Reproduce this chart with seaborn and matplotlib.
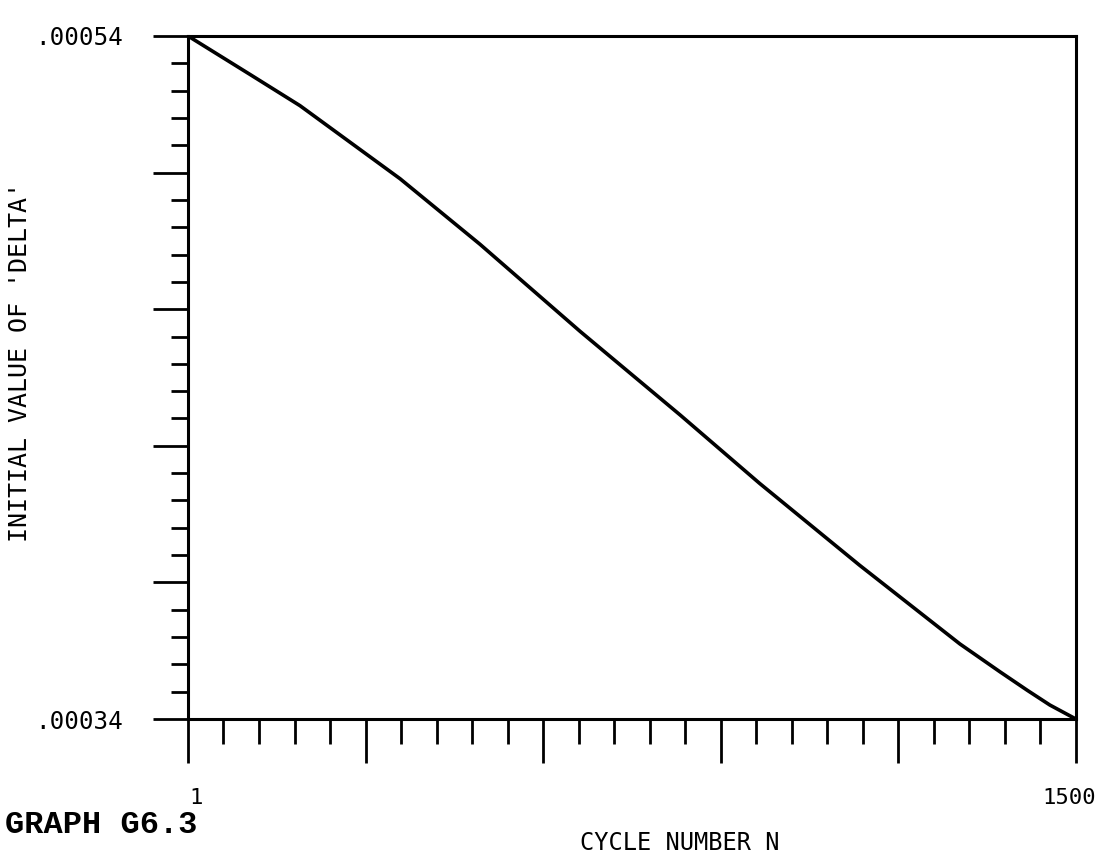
import numpy as np
import matplotlib
matplotlib.use('Agg')
import matplotlib.pyplot as plt
import matplotlib.transforms as mtransforms
import seaborn as sns

cycle_n = [1, 106, 190, 359, 494, 663, 832, 966, 1135, 1304, 1372, 1418, 1456, 1500]
delta = [0.000540, 0.0005287, 0.0005196, 0.0004982, 0.000479, 0.0004535, 0.000429,
         0.000409, 0.000385, 0.000362, 0.0003538, 0.0003484, 0.0003441, 0.000340]

x_min, x_max = 1, 1500
y_min, y_max = 0.00034, 0.00054
x_tick_labels = ["1", "", "", "", "", "1500"]
y_tick_labels = [".00034", "", "", "", "", ".00054"]

sns.set_style("ticks")
plt.rcParams['font.family'] = ['DejaVu Sans Mono', 'DejaVu Sans']
plt.rcParams['text.color'] = 'black'
plt.rcParams['axes.labelcolor'] = 'black'
plt.rcParams['xtick.color'] = 'black'
plt.rcParams['ytick.color'] = 'black'

fig = plt.figure(figsize=(10.96, 8.56), dpi=100)
ax = fig.add_axes([0.1715, 0.160, 0.8102, 0.798])

sns.lineplot(x=cycle_n, y=delta, ax=ax, color="black", linewidth=2.6)

ax.set_xlim(x_min, x_max)
ax.set_ylim(y_min, y_max)

# 25 divisions on each axis, long tick every 5
ax.set_xticks(np.linspace(x_min, x_max, 6))
ax.set_xticks(np.linspace(x_min, x_max, 26), minor=True)
ax.set_yticks(np.linspace(y_min, y_max, 6))
ax.set_yticks(np.linspace(y_min, y_max, 26), minor=True)
ax.set_xticklabels(x_tick_labels, fontsize=16)
ax.set_yticklabels(y_tick_labels, fontsize=17.5)

ax.tick_params(axis='x', which='major', direction='out', length=32, width=2, pad=18)
ax.tick_params(axis='x', which='minor', direction='out', length=18, width=2)
ax.tick_params(axis='y', which='major', direction='out', length=25, width=2, pad=22)
ax.tick_params(axis='y', which='minor', direction='out', length=12, width=2)

# nudge the end labels like on the plotter output
lbls = ax.get_xticklabels()
lbls[0].set_transform(lbls[0].get_transform() + mtransforms.ScaledTranslation(0.08, 0, fig.dpi_scale_trans))
lbls[-1].set_transform(lbls[-1].get_transform() + mtransforms.ScaledTranslation(-0.07, 0, fig.dpi_scale_trans))

for sp in ax.spines.values():
    sp.set_visible(True)
    sp.set_linewidth(2.2)
    sp.set_color("black")

ax.set_xlabel("CYCLE NUMBER N", fontsize=17)
ax.xaxis.set_label_coords(0.554, -0.164)
ax.set_ylabel("INITIAL VALUE OF 'DELTA'", fontsize=18)
ax.yaxis.set_label_coords(-0.176, 0.523)

fig.text(0.005, 0.036, "GRAPH G6.3", fontsize=23, fontweight="bold",
         family="Liberation Mono", va="center", ha="left")

fig.savefig("out.png", dpi=100, facecolor="white")
